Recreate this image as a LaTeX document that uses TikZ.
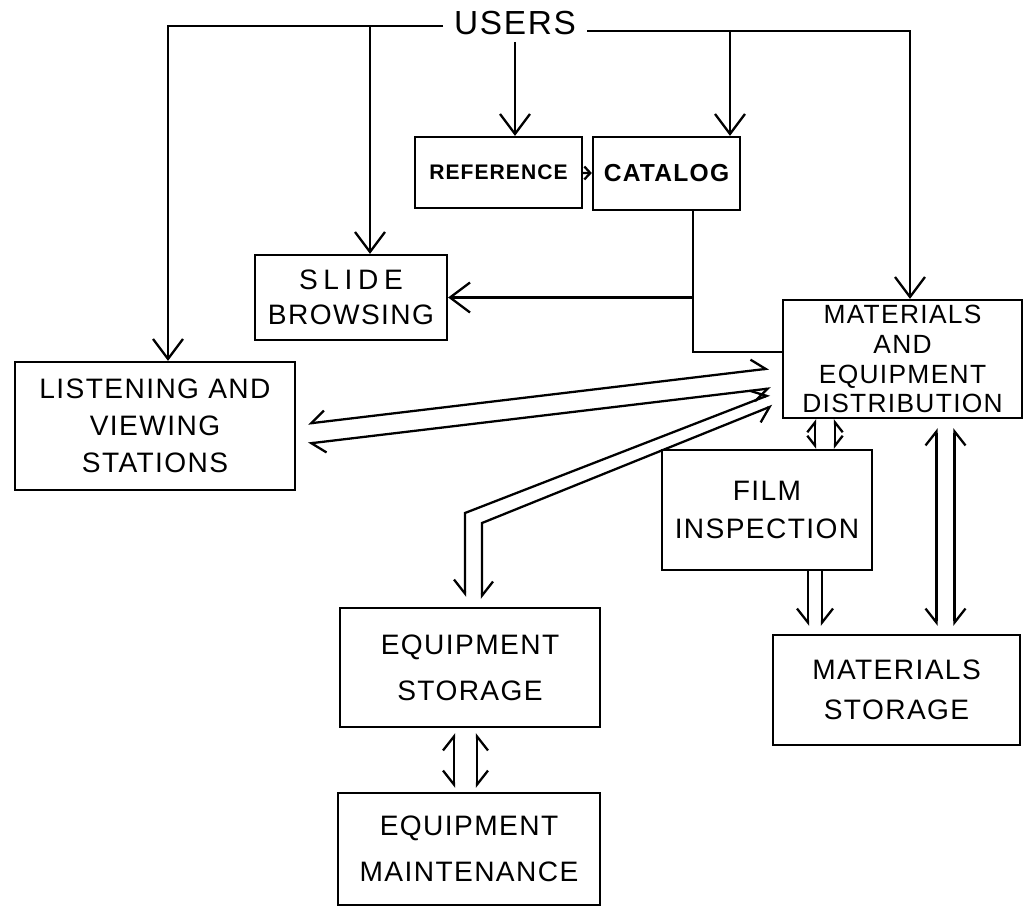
\documentclass[tikz,border=0pt]{standalone}
\usepackage{fontspec}
\setmainfont{Liberation Sans}[LetterSpace=5]
\usetikzlibrary{arrows.meta}

\begin{document}
\begin{tikzpicture}[line width=1.3pt,>={Straight Barb[length=0.4cm,width=0.6cm]},
      bx/.style={draw,rectangle,align=center,inner sep=0pt,
        font=\fontsize{16}{22}\selectfont},
      lbarb/.style={{Straight Barb[harpoon,swap,length=0.28cm,width=0.44cm,scale=#1]}-{Straight Barb[harpoon,length=0.28cm,width=0.44cm,scale=#1]}},
      lbarb/.default=1,
      rbarb/.style={{Straight Barb[harpoon,length=0.28cm,width=0.44cm,scale=#1]}-{Straight Barb[harpoon,swap,length=0.28cm,width=0.44cm,scale=#1]}},
      rbarb/.default=1]
    \useasboundingbox (0,0) rectangle (20.5,-18.34);
    \node[font=\fontsize{19}{22}\selectfont,inner xsep=0.2cm](users) at (10.3,-0.46) {USERS};
    \node[bx,minimum width=3.34cm,minimum height=1.42cm,font=\fontsize{12}{14}\selectfont\bfseries](ref) at (9.97,-3.45) {REFERENCE};
    \node[bx,minimum width=2.94cm,minimum height=1.46cm,font=\fontsize{14}{16}\selectfont\bfseries](cat) at (13.33,-3.47) {CATALOG};
    \node[bx,minimum width=3.84cm,minimum height=1.70cm,font=\fontsize{16}{20}\selectfont](slide) at (7.02,-5.95)
      {{\addfontfeature{LetterSpace=20}SLIDE}\\BROWSING};
    \node[bx,minimum width=5.6cm,minimum height=2.56cm,font=\fontsize{16}{21}\selectfont](listen) at (3.10,-8.52)
      {LISTENING AND\\VIEWING\\STATIONS};
    \node[bx,minimum width=4.78cm,minimum height=2.36cm,font=\fontsize{15}{17}\selectfont](mat) at (18.05,-7.18)
      {MATERIALS\\AND\\EQUIPMENT\\DISTRIBUTION};
    \node[bx,minimum width=4.2cm,minimum height=2.4cm](film) at (15.34,-10.2) {FILM\\INSPECTION};
    \node[bx,minimum width=5.2cm,minimum height=2.38cm,font=\fontsize{16}{26}\selectfont](eqst) at (9.4,-13.35)
      {EQUIPMENT\\STORAGE};
    \node[bx,minimum width=5.24cm,minimum height=2.24cm,font=\fontsize{16}{26}\selectfont](eqmt) at (9.38,-16.98)
      {EQUIPMENT\\MAINTENANCE};
    \node[bx,minimum width=4.94cm,minimum height=2.2cm,font=\fontsize{16}{23}\selectfont](matst) at (17.93,-13.8)
      {MATERIALS\\STORAGE};
    % lines from the users
    \draw[->] ([yshift=-0.06cm]users.west) -| ([xshift=0.26cm]listen.north);
    \draw[->] ([yshift=-0.16cm]users.east) -| ([xshift=0.15cm]mat.north);
    \draw[->] ([xshift=0.38cm,yshift=-0.06cm]slide.north |- users.west) -- ([xshift=0.38cm]slide.north);
    \draw[->] (users.south) -- (users.south |- ref.north);
    \draw[->] ([xshift=1.27cm,yshift=-0.16cm]cat.north |- users.east) -- ([xshift=1.27cm]cat.north);
    \draw[-{Straight Barb[length=0.12cm,width=0.26cm]}] (ref) -- (cat);
    \draw[->] ([xshift=0.53cm]cat.south) |- (slide.east);
    \draw ([xshift=0.53cm]cat.south) |- ([yshift=0.14cm]mat.west);
    % two way flows
    \draw[lbarb,shorten <=0.24cm,shorten >=0.26cm] ([yshift=0.02cm]listen.east) -- ([yshift=-0.16cm]mat.west);
    \draw[rbarb,shorten <=0.24cm,shorten >=0.22cm] ([yshift=-0.38cm]listen.east) -- ([yshift=-0.56cm]mat.west);
    \coordinate (k1) at (9.30,-10.26);
    \coordinate (k2) at (9.64,-10.46);
    \draw[rbarb,shorten <=0.26cm,shorten >=0.2cm] ([yshift=-0.62cm]mat.west) -- (k1) -- (k1 |- eqst.north);
    \draw[lbarb,shorten <=0.2cm,shorten >=0.16cm] ([yshift=-0.86cm]mat.west) -- (k2) -- (k2 |- eqst.north);
    \coordinate (fa) at ([xshift=0.96cm]film.north);
    \coordinate (fb) at ([xshift=1.36cm]film.north);
    \draw[rbarb=0.7] (fa |- mat.south) -- (fa);
    \draw[lbarb=0.7] (fb |- mat.south) -- (fb);
    \coordinate (fc) at ([xshift=0.82cm]film.south);
    \coordinate (fd) at ([xshift=1.1cm]film.south);
    \draw[-{Straight Barb[harpoon,swap,length=0.28cm,width=0.44cm]},shorten >=0.16cm] (fc) -- (fc |- matst.north);
    \draw[-{Straight Barb[harpoon,length=0.28cm,width=0.44cm]},shorten >=0.16cm] (fd) -- (fd |- matst.north);
    \coordinate (ma) at ([xshift=0.8cm]matst.north);
    \coordinate (mb) at ([xshift=1.16cm]matst.north);
    \draw[rbarb,shorten <=0.18cm,shorten >=0.16cm] (ma |- mat.south) -- (ma);
    \draw[lbarb,shorten <=0.18cm,shorten >=0.16cm] (mb |- mat.south) -- (mb);
    \coordinate (ea) at ([xshift=-0.32cm]eqst.south);
    \coordinate (eb) at ([xshift=0.14cm]eqst.south);
    \draw[rbarb,shorten <=0.1cm,shorten >=0.08cm] (ea) -- (ea |- eqmt.north);
    \draw[lbarb,shorten <=0.1cm,shorten >=0.08cm] (eb) -- (eb |- eqmt.north);
  \end{tikzpicture}
\end{document}
